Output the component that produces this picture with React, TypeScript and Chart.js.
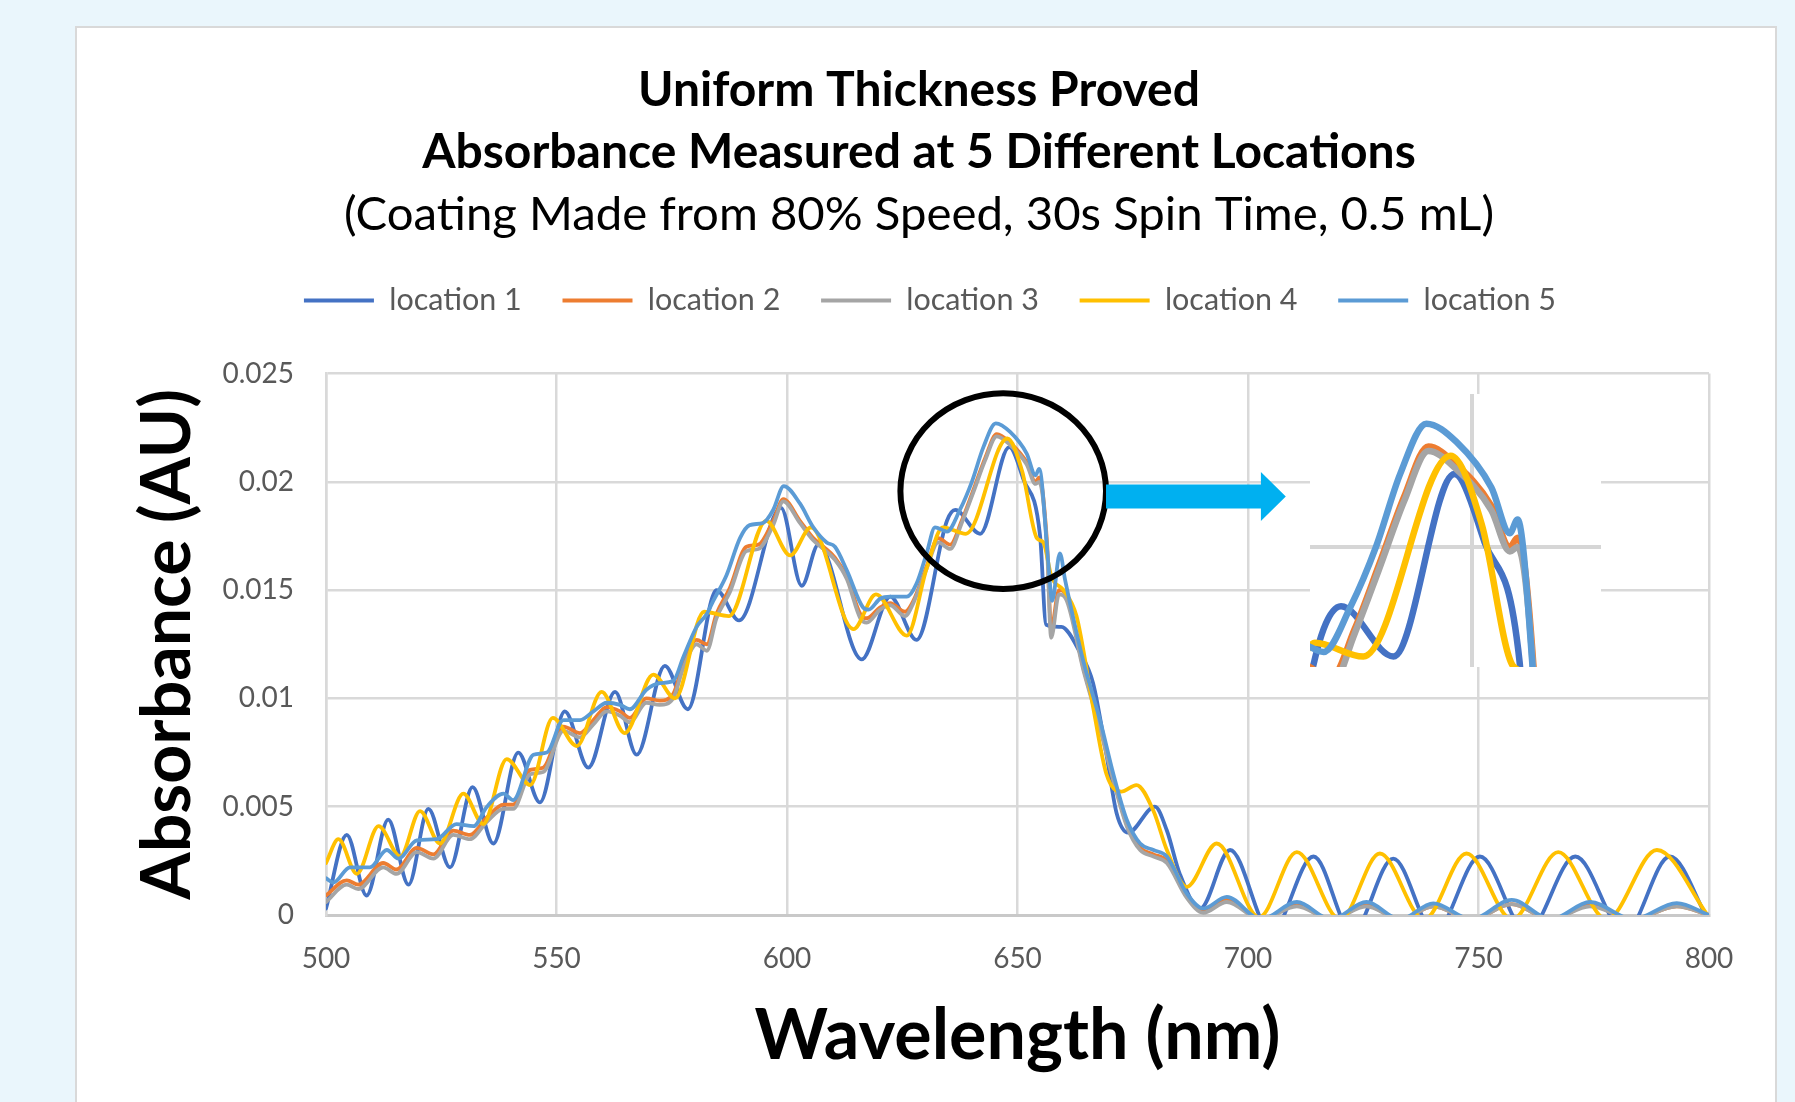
import React, { useEffect, useRef } from "react";
import { Chart, registerables } from "chart.js";

Chart.register(...registerables);

// ---------- text ----------
const TITLE_LINES = ["Uniform Thickness Proved", "Absorbance Measured at 5 Different Locations"];
const SUBTITLE = "(Coating Made from 80% Speed, 30s Spin Time, 0.5 mL)";
const X_TITLE = "Wavelength (nm)";
const Y_TITLE = "Absorbance (AU)";

// ---------- categories / ticks ----------
const SERIES_NAMES = ["location 1", "location 2", "location 3", "location 4", "location 5"];
const SERIES_COLORS = ["#4472C4", "#ED7D31", "#A5A5A5", "#FFC000", "#5B9BD5"];
const X_TICKS = [500, 550, 600, 650, 700, 750, 800];
const Y_TICKS = [0, 0.005, 0.01, 0.015, 0.02, 0.025];
const Y_TICK_LABELS = ["0", "0.005", "0.01", "0.015", "0.02", "0.025"];

// ---------- series values (wavelength nm, absorbance AU) ----------
const LOC1_NM = [500, 504.5, 508.8, 513.5, 517.9, 522.2, 526.9, 531.8, 536.3, 541.7, 546.4, 551.8, 556.9, 562.7, 567.4, 573.5, 578.5, 584.7, 589.6, 598.7, 603.2, 606.8, 616.2, 622.4, 628.1, 634.7, 636.5, 641.9, 648.2, 651.3, 654.9, 656.2, 659.5, 663.6, 666.4, 669.3, 671.5, 674, 679.8, 682.4, 685.2, 689.6, 696.1, 705, 714.2, 722.6, 731.5, 740.5, 750.3, 760.5, 771, 781.8, 791.5, 800];
const LOC1_ABS = [0.0003, 0.0037, 0.0009, 0.0044, 0.0014, 0.0049, 0.0022, 0.0059, 0.0033, 0.0075, 0.0052, 0.0094, 0.0068, 0.0103, 0.0074, 0.0115, 0.0095, 0.015, 0.0136, 0.0188, 0.0152, 0.0171, 0.0118, 0.0147, 0.0127, 0.0182, 0.0187, 0.0176, 0.0216, 0.0201, 0.0175, 0.0134, 0.0133, 0.0121, 0.0107, 0.0074, 0.0047, 0.0038, 0.005, 0.0039, 0.0019, 0.0003, 0.003, -0.0008, 0.0027, -0.0008, 0.0026, -0.0008, 0.0027, -0.0008, 0.0027, -0.0008, 0.0027, -0.0003];

const LOC2_NM = [500, 504.5, 507, 512.4, 515.3, 519.7, 523.3, 527.6, 531.2, 534.9, 538.5, 540.6, 544.3, 547.1, 551.5, 555.1, 558, 560.9, 563.8, 565.9, 569.5, 572.4, 575.3, 577.5, 580.4, 582.6, 584.7, 587.6, 591.2, 593.8, 597, 599.2, 602.8, 605.7, 607.9, 610.4, 613, 615.9, 617.3, 620.2, 622.4, 625.6, 627.4, 630.3, 632.8, 635.4, 637.9, 640.4, 643, 645.5, 648.4, 652, 653.9, 654.7, 656.4, 657.3, 659, 660.5, 664.3, 667.9, 670.8, 673.7, 676.6, 679.5, 682.4, 686.7, 690.3, 695.4, 702.8, 710.6, 718, 725.7, 733, 740.2, 748.5, 757.2, 765.7, 774.2, 783.5, 793, 800];
const LOC2_ABS = [0.0009, 0.0016, 0.0014, 0.0024, 0.0021, 0.0031, 0.0028, 0.0039, 0.0037, 0.0045, 0.0051, 0.0051, 0.0067, 0.0068, 0.0087, 0.0084, 0.009, 0.0096, 0.0094, 0.0091, 0.01, 0.0099, 0.0102, 0.0116, 0.0127, 0.0125, 0.0139, 0.0151, 0.017, 0.0171, 0.0182, 0.0192, 0.0182, 0.0174, 0.017, 0.0165, 0.0156, 0.0139, 0.0137, 0.0142, 0.0144, 0.014, 0.0145, 0.0161, 0.0174, 0.0171, 0.0182, 0.0196, 0.0211, 0.0222, 0.0218, 0.0209, 0.02, 0.0202, 0.0172, 0.0132, 0.015, 0.0148, 0.0114, 0.0087, 0.0063, 0.0042, 0.0031, 0.0028, 0.0025, 0.0009, 0.0002, 0.0007, -0.0002, 0.00045, -0.0002, 0.00045, -0.0002, 0.0004, -0.0002, 0.0005, -0.0002, 0.00045, -0.0002, 0.0004, 0];

const LOC3_NM = [500, 504.5, 507, 512.4, 515.3, 519.7, 523.3, 527.6, 531.2, 534.9, 538.5, 540.6, 544.3, 547.1, 551.5, 555.1, 558, 560.9, 563.8, 565.9, 569.5, 572.4, 575.3, 577.5, 580.4, 582.6, 584.7, 587.6, 591.2, 593.8, 597, 599.2, 602.8, 605.7, 607.9, 610.4, 613, 615.9, 617.3, 620.2, 622.4, 625.6, 627.4, 630.3, 632.8, 635.4, 637.9, 640.4, 643, 645.5, 648.4, 652, 653.9, 654.7, 656.4, 657.3, 659, 660.5, 664.3, 667.9, 670.8, 673.7, 676.6, 679.5, 682.4, 686.7, 690.3, 695.4, 702.8, 710.6, 718, 725.7, 733, 740.2, 748.5, 757.2, 765.7, 774.2, 783.5, 793, 800];
const LOC3_ABS = [0.0006, 0.0014, 0.0012, 0.0022, 0.0019, 0.0029, 0.0026, 0.0037, 0.0035, 0.0043, 0.0049, 0.0049, 0.0065, 0.0066, 0.0085, 0.0082, 0.0088, 0.0094, 0.0092, 0.0089, 0.0098, 0.0097, 0.01, 0.0114, 0.0125, 0.0122, 0.0137, 0.0149, 0.0168, 0.0169, 0.018, 0.0191, 0.0181, 0.0173, 0.0169, 0.0164, 0.0155, 0.0137, 0.0135, 0.0141, 0.0143, 0.0138, 0.0144, 0.016, 0.0172, 0.0169, 0.0181, 0.0195, 0.021, 0.0221, 0.0217, 0.0208, 0.0199, 0.02, 0.017, 0.0128, 0.0148, 0.0146, 0.0113, 0.0086, 0.0062, 0.0041, 0.003, 0.0027, 0.0024, 0.0008, 0.0001, 0.0006, -0.0002, 0.0004, -0.0002, 0.0004, -0.0002, 0.0004, -0.0002, 0.0005, -0.0002, 0.0004, -0.0002, 0.0004, 0];

const LOC4_NM = [500, 502.7, 506.7, 511.4, 516.1, 520.4, 524.7, 529.8, 534.1, 539.2, 544.3, 549.2, 554.4, 559.8, 564.8, 571, 575.7, 582, 587.4, 595.5, 600.7, 605.2, 614.4, 619.3, 626, 630.3, 633.8, 638.8, 647.8, 651, 654.2, 655.6, 657.4, 660, 662.8, 666.4, 669.3, 672.5, 675.8, 679.5, 682.4, 686.7, 693.2, 702.4, 710.6, 720, 728.6, 738.2, 747.4, 757.3, 767.3, 777.8, 788.7, 800];
const LOC4_ABS = [0.0024, 0.0035, 0.0019, 0.0041, 0.0027, 0.0048, 0.0033, 0.0056, 0.0042, 0.0072, 0.006, 0.0091, 0.0078, 0.0103, 0.0084, 0.0111, 0.01, 0.014, 0.0138, 0.0182, 0.0166, 0.0179, 0.0132, 0.0148, 0.0129, 0.016, 0.0179, 0.0176, 0.022, 0.0205, 0.0174, 0.0172, 0.0156, 0.015, 0.0138, 0.0096, 0.0065, 0.0057, 0.006, 0.0048, 0.003, 0.0013, 0.0033, -0.0001, 0.0029, -0.0002, 0.00284, -0.0002, 0.00284, -0.0002, 0.0029, -0.0002, 0.003, -0.0001];

const LOC5_NM = [500, 501.6, 505.2, 509.5, 513.2, 515.7, 519.7, 524, 528.3, 532, 534.9, 538.5, 540.6, 545, 547.9, 551.5, 555.1, 558, 560.9, 563.8, 565.9, 569.5, 572.4, 575.3, 577.5, 580.4, 582.6, 584, 586.9, 589.8, 591.9, 594.8, 597, 599.3, 602.8, 605.7, 608.6, 610.4, 613, 616.5, 617.7, 620.2, 622.4, 626, 628.1, 630.3, 632.1, 634.7, 637.5, 640.1, 642.6, 645.3, 648.4, 652, 653.9, 654.7, 656.7, 657.5, 659.2, 660.3, 664.3, 667.9, 670.8, 673.7, 676.6, 679.5, 682.4, 686.7, 690.3, 695.4, 702.8, 710.6, 718, 725.7, 733, 740.2, 748.5, 757.2, 765.7, 774.2, 783.5, 793, 800];
const LOC5_ABS = [0.0017, 0.0015, 0.0022, 0.0022, 0.003, 0.0026, 0.00345, 0.0035, 0.0042, 0.0041, 0.005, 0.0056, 0.0053, 0.0074, 0.0075, 0.009, 0.009, 0.0094, 0.0098, 0.0097, 0.0095, 0.0104, 0.0107, 0.0108, 0.0119, 0.0133, 0.0139, 0.0145, 0.0157, 0.0174, 0.018, 0.0181, 0.0187, 0.0198, 0.019, 0.0179, 0.0172, 0.017, 0.0159, 0.0142, 0.0141, 0.0146, 0.0147, 0.0147, 0.0153, 0.0167, 0.0179, 0.0177, 0.0187, 0.02, 0.0216, 0.0227, 0.0223, 0.0213, 0.0203, 0.0206, 0.0162, 0.0145, 0.0167, 0.0155, 0.0117, 0.009, 0.0065, 0.0044, 0.0033, 0.003, 0.0027, 0.001, 0.0003, 0.00084, -0.0002, 0.0006, -0.0002, 0.0006, -0.0002, 0.00054, -0.0002, 0.0007, -0.0002, 0.0006, -0.0002, 0.00055, 0];

const SERIES_NM = [LOC1_NM, LOC2_NM, LOC3_NM, LOC4_NM, LOC5_NM];
const SERIES_ABS = [LOC1_ABS, LOC2_ABS, LOC3_ABS, LOC4_ABS, LOC5_ABS];

// ---------- callout (in data units) ----------
const CIRCLE_CENTER = [646.9, 0.01957];
const CIRCLE_RADIUS = [22.3, 0.00452];
const ARROW_NM = [669.2, 702.8, 708.2]; // shaft start, head base, tip
const ARROW_ABS = 0.01932;
const ARROW_HALF = [0.00055, 0.00113]; // shaft, head
const INSET_NM = [633.3, 663.3];
const INSET_ABS = [0.01737, 0.02335];
const INSET_GRID_NM = [650];
const INSET_GRID_ABS = [0.02];

const FONT = "Lato";
const LEGEND_SHIFT = 11;

function buildDatasets(width: number) {
  return SERIES_NAMES.map((name, i) => ({
    label: name,
    data: SERIES_NM[i].map((x, j) => ({ x, y: SERIES_ABS[i][j] })),
    borderColor: SERIES_COLORS[i],
    backgroundColor: SERIES_COLORS[i],
    borderWidth: width,
    pointRadius: 0,
    pointHoverRadius: 0,
    cubicInterpolationMode: "monotone" as const,
    borderJoinStyle: "round" as const,
    borderCapStyle: "round" as const,
    fill: false,
    order: SERIES_NAMES.length - i,
    xAxisID: "x",
    yAxisID: "y",
  }));
}

const legendShiftPlugin = {
  id: "legendShift",
  afterLayout(chart: any) {
    if (chart.legend) {
      chart.legend.left += LEGEND_SHIFT;
      chart.legend.right += LEGEND_SHIFT;
    }
  },
};

const calloutPlugin = {
  id: "callout",
  afterDatasetsDraw(chart: any) {
    const { ctx, scales } = chart;
    const xs = scales.x;
    const ys = scales.y;
    const cx = xs.getPixelForValue(CIRCLE_CENTER[0]);
    const cy = ys.getPixelForValue(CIRCLE_CENTER[1]);
    const rx = xs.getPixelForValue(CIRCLE_CENTER[0] + CIRCLE_RADIUS[0]) - cx;
    const ry = cy - ys.getPixelForValue(CIRCLE_CENTER[1] + CIRCLE_RADIUS[1]);
    ctx.save();
    ctx.beginPath();
    ctx.ellipse(cx, cy, rx, ry, 0, 0, Math.PI * 2);
    ctx.lineWidth = 6;
    ctx.strokeStyle = "#000000";
    ctx.stroke();

    const x0 = xs.getPixelForValue(ARROW_NM[0]);
    const x1 = xs.getPixelForValue(ARROW_NM[1]);
    const x2 = xs.getPixelForValue(ARROW_NM[2]);
    const yc = ys.getPixelForValue(ARROW_ABS);
    const sh = yc - ys.getPixelForValue(ARROW_ABS + ARROW_HALF[0]);
    const hh = yc - ys.getPixelForValue(ARROW_ABS + ARROW_HALF[1]);
    ctx.beginPath();
    ctx.moveTo(x0, yc - sh);
    ctx.lineTo(x1, yc - sh);
    ctx.lineTo(x1, yc - hh);
    ctx.lineTo(x2, yc);
    ctx.lineTo(x1, yc + hh);
    ctx.lineTo(x1, yc + sh);
    ctx.lineTo(x0, yc + sh);
    ctx.closePath();
    ctx.fillStyle = "#00B0F0";
    ctx.fill();
    ctx.restore();
  },
};

export default function App() {
  const mainRef = useRef<HTMLCanvasElement | null>(null);
  const insetRef = useRef<HTMLCanvasElement | null>(null);

  useEffect(() => {
    if (!mainRef.current || !insetRef.current) return;
    const tickFont = { family: FONT, size: 28 };
    const main = new Chart(mainRef.current, {
      type: "line",
      data: { datasets: buildDatasets(3.8) as any },
      plugins: [legendShiftPlugin, calloutPlugin],
      options: {
        animation: false,
        responsive: false,
        maintainAspectRatio: false,
        events: [],
        layout: { padding: { left: 129, right: 86, top: 0, bottom: 0 } },
        plugins: {
          title: {
            display: true,
            text: TITLE_LINES,
            color: "#000000",
            font: { family: FONT, size: 48, weight: "bold", lineHeight: 61.5 / 48 },
            padding: { top: 60, bottom: 5.5 },
          },
          subtitle: {
            display: true,
            text: SUBTITLE,
            color: "#000000",
            font: { family: FONT, size: 47.3, weight: "normal", lineHeight: 52 / 47.3 },
            padding: { top: 0, bottom: 4 },
          },
          legend: {
            display: true,
            position: "top",
            labels: {
              boxWidth: 70,
              boxHeight: 4,
              padding: 40.7,
              color: "#595959",
              font: { family: FONT, size: 30.5 },
              sort: (a: any, b: any) => a.datasetIndex - b.datasetIndex,
              generateLabels: (chart: any) =>
                (Chart.defaults.plugins.legend.labels.generateLabels as any)(chart).map((l: any) => ({
                  ...l,
                  lineWidth: 0,
                })),
            },
          },
          tooltip: { enabled: false },
        },
        scales: {
          x: {
            type: "linear",
            position: "bottom",
            min: X_TICKS[0],
            max: X_TICKS[X_TICKS.length - 1],
            afterBuildTicks: (s: any) => {
              s.ticks = X_TICKS.map((v) => ({ value: v }));
            },
            ticks: { font: tickFont, color: "#595959", padding: 27, maxRotation: 0, callback: (v: any) => String(v) },
            grid: { color: "#d9d9d9", lineWidth: 2.5, drawTicks: false },
            border: { display: true, color: "#c9c9c9", width: 3 },
            title: {
              display: true,
              text: X_TITLE,
              color: "#000000",
              font: { family: FONT, size: 70, weight: "bold", lineHeight: 1 },
              padding: { top: 0, bottom: 31 },
            },
            afterFit: (s: any) => {
              s.height = 187;
            },
          },
          xTop: {
            type: "linear",
            position: "top",
            min: X_TICKS[0],
            max: X_TICKS[X_TICKS.length - 1],
            grid: { display: false, drawTicks: false },
            ticks: { display: false },
            border: { display: false },
            afterFit: (s: any) => {
              s.height = 47.8;
            },
          },
          y: {
            type: "linear",
            position: "left",
            min: Y_TICKS[0],
            max: Y_TICKS[Y_TICKS.length - 1],
            afterBuildTicks: (s: any) => {
              s.ticks = Y_TICKS.map((v) => ({ value: v }));
            },
            ticks: {
              font: tickFont,
              color: "#595959",
              padding: 32,
              callback: (_v: any, i: number) => Y_TICK_LABELS[i],
            },
            grid: { color: "#d9d9d9", lineWidth: 2.5, drawTicks: false },
            border: { display: true, color: "#d9d9d9", width: 2.5 },
            title: {
              display: true,
              text: Y_TITLE,
              color: "#000000",
              font: { family: FONT, size: 68, weight: "bold", lineHeight: 1 },
              padding: { top: 5, bottom: 0 },
            },
            afterFit: (s: any) => {
              s.width = 197;
            },
          },
        },
      } as any,
    });

    const inset = new Chart(insetRef.current, {
      type: "line",
      data: { datasets: buildDatasets(6.5) as any },
      options: {
        animation: false,
        responsive: false,
        maintainAspectRatio: false,
        events: [],
        layout: { padding: 0 },
        plugins: { legend: { display: false }, title: { display: false }, tooltip: { enabled: false } },
        scales: {
          x: {
            type: "linear",
            min: INSET_NM[0],
            max: INSET_NM[1],
            afterBuildTicks: (s: any) => {
              s.ticks = INSET_GRID_NM.map((v) => ({ value: v }));
            },
            ticks: { display: false },
            grid: { color: "#d6d6d6", lineWidth: 4, drawTicks: false },
            border: { display: false },
            afterFit: (s: any) => {
              s.height = 0;
            },
          },
          y: {
            type: "linear",
            min: INSET_ABS[0],
            max: INSET_ABS[1],
            afterBuildTicks: (s: any) => {
              s.ticks = INSET_GRID_ABS.map((v) => ({ value: v }));
            },
            ticks: { display: false },
            grid: { color: "#d6d6d6", lineWidth: 4, drawTicks: false },
            border: { display: false },
            afterFit: (s: any) => {
              s.width = 0;
            },
          },
        },
      } as any,
    });

    return () => {
      main.destroy();
      inset.destroy();
    };
  }, []);

  return (
    <div
      style={{
        position: "absolute",
        left: 0,
        top: 0,
        width: 1795,
        height: 1102,
        background: "#EAF6FC",
        overflow: "hidden",
      }}
    >
      <div
        style={{
          position: "absolute",
          left: 75,
          top: 26,
          width: 1702,
          height: 1100,
          background: "#ffffff",
          border: "2px solid #d9d9d9",
          boxSizing: "border-box",
        }}
      />
      <canvas
        ref={mainRef}
        width={1795}
        height={1102}
        style={{ position: "absolute", left: 0, top: 0, width: 1795, height: 1102 }}
      />
      <div style={{ position: "absolute", left: 1310, top: 394, width: 291, height: 273, background: "#ffffff" }}>
        <canvas ref={insetRef} width={291} height={273} style={{ display: "block", width: 291, height: 273 }} />
      </div>
    </div>
  );
}
